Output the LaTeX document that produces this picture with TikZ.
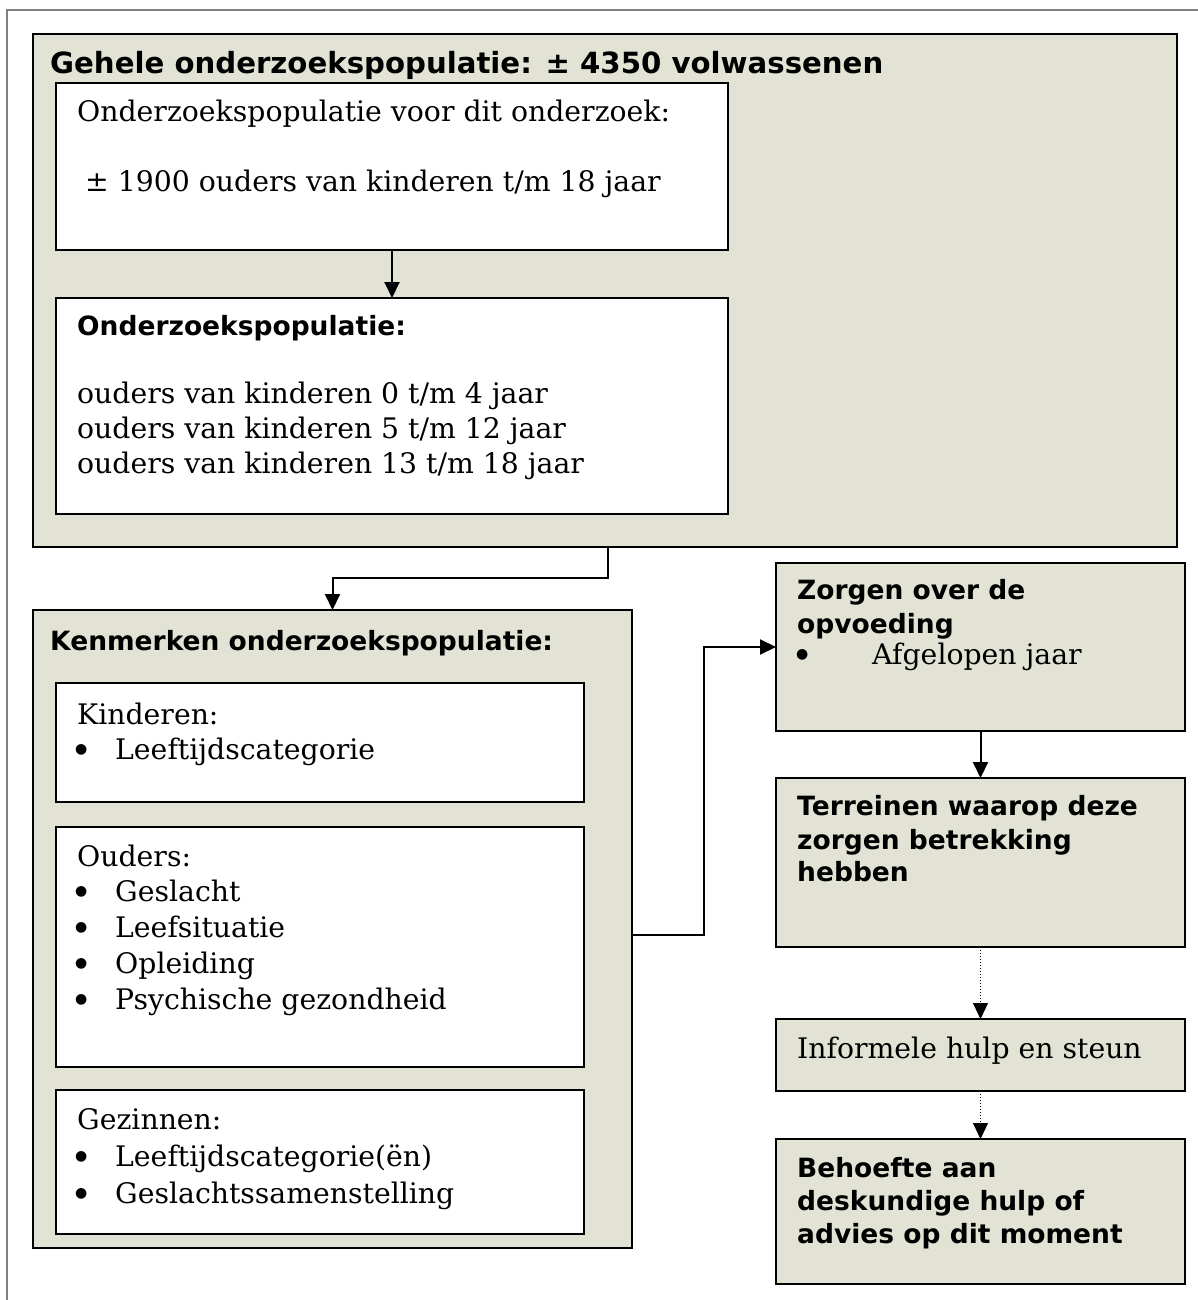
\documentclass[tikz,border=0pt]{standalone}
\usepackage{fontspec}
\setmainfont{DejaVu Serif}
\newfontfamily\hdfam{DejaVu Sans}
\usetikzlibrary{arrows.meta}
\definecolor{beige}{RGB}{227,227,213}
\newcommand\myrm{\rmfamily\fontsize{28.3}{34}\selectfont}
\newcommand\myhd{\hdfam\bfseries\fontsize{26.5}{33}\selectfont}
\newcommand\mytitle{\hdfam\bfseries\fontsize{29.2}{34}\selectfont}
\newcommand\mybul{\hdfam\fontsize{14}{14}\selectfont}
\begin{document}
\begin{tikzpicture}[x=1pt,y=-1pt,
  outerbox/.style={draw=black, fill=beige, line width=2pt, rectangle, anchor=north west, inner sep=0pt, outer sep=0pt},
  innerbox/.style={draw=black, fill=white, line width=2pt, rectangle, anchor=north west, inner sep=0pt, outer sep=0pt},
  txt/.style={anchor=base west, inner sep=0pt, font=\myrm},
  bul/.style={anchor=base west, inner sep=0pt, font=\mybul, yshift=6pt},
  hd/.style={anchor=base west, inner sep=0pt, font=\myhd},
  conn/.style={line width=2pt, -{Triangle[length=16pt,width=15pt]}},
  dotconn/.style={line width=1pt, dotted, -{Triangle[length=16pt,width=15pt]}}]
\useasboundingbox (0,0) rectangle (1198,1300);
% page frame
\draw[gray, line width=1.5pt] (7,1300) -- (7,10) -- (1198,10);

% boxes
\node[outerbox, minimum width=1144pt, minimum height=513pt] (pop) at (33,34) {};
\node[innerbox, minimum width=672pt, minimum height=167pt] (boxA) at (56,83) {};
\node[innerbox, minimum width=672pt, minimum height=216pt] (boxB) at (56,298) {};
\node[outerbox, minimum width=599pt, minimum height=638pt] (kenm) at (33,610) {};
\node[innerbox, minimum width=528pt, minimum height=119pt] (kind) at (56,683) {};
\node[innerbox, minimum width=528pt, minimum height=240pt] (oud) at (56,827) {};
\node[innerbox, minimum width=528pt, minimum height=144pt] (gez) at (56,1090) {};
\node[outerbox, minimum width=409pt, minimum height=168pt] (zorg) at (776,563) {};
\node[outerbox, minimum width=409pt, minimum height=169pt] (terr) at (776,778) {};
\node[outerbox, minimum width=409pt, minimum height=72pt] (inf) at (776,1019) {};
\node[outerbox, minimum width=409pt, minimum height=145pt] (beh) at (776,1139) {};

% texts
\node[hd, font=\mytitle] (t0) at (50,74) {Gehele onderzoekspopulatie: ± 4350 volwassenen};
\node[txt] (a1) at (77,122) {Onderzoekspopulatie voor dit onderzoek:};
\node[txt] (a2) at (85,192) {± 1900 ouders van kinderen t/m 18 jaar};
\node[hd] (b0) at (77,335) {Onderzoekspopulatie:};
\node[txt] (b1) at (77,403) {ouders van kinderen 0 t/m 4 jaar};
\node[txt] (b2) at (77,438) {ouders van kinderen 5 t/m 12 jaar};
\node[txt] (b3) at (77,473) {ouders van kinderen 13 t/m 18 jaar};

\node[hd] (k0) at (50,650) {Kenmerken onderzoekspopulatie:};
\node[txt] (k1) at (77,724) {Kinderen:};
\node[bul] (k1b) at (75,759) {●};
\node[txt] (k1t) at (115,759) {Leeftijdscategorie};

\node[txt] (o0) at (77,866) {Ouders:};
\node[bul] (o1b) at (75,901) {●};
\node[txt] (o1t) at (115,901) {Geslacht};
\node[bul] (o2b) at (75,937) {●};
\node[txt] (o2t) at (115,937) {Leefsituatie};
\node[bul] (o3b) at (75,973) {●};
\node[txt] (o3t) at (115,973) {Opleiding};
\node[bul] (o4b) at (75,1009) {●};
\node[txt] (o4t) at (115,1009) {Psychische gezondheid};

\node[txt] (g0) at (77,1129) {Gezinnen:};
\node[bul] (g1b) at (75,1166) {●};
\node[txt] (g1t) at (115,1166) {Leeftijdscategorie(ën)};
\node[bul] (g2b) at (75,1203) {●};
\node[txt] (g2t) at (115,1203) {Geslachtssamenstelling};

\node[hd] (z1) at (797,599) {Zorgen over de};
\node[hd] (z2) at (797,633) {opvoeding};
\node[bul] (z3b) at (796,664) {●};
\node[txt] (z3t) at (872,664) {Afgelopen jaar};

\node[hd] (r1) at (797,815) {Terreinen waarop deze};
\node[hd] (r2) at (797,849) {zorgen betrekking};
\node[hd] (r3) at (797,881) {hebben};

\node[txt] (i1) at (797,1058) {Informele hulp en steun};

\node[hd] (h1) at (797,1177) {Behoefte aan};
\node[hd] (h2) at (797,1210) {deskundige hulp of};
\node[hd] (h3) at (797,1243) {advies op dit moment};

% connectors
\coordinate (popout) at (608,547);
\coordinate (kout) at (632,935);
\draw[conn] (boxA.south) -- (boxB.north);
\draw[conn] (popout) -- ++(0,31) -| (kenm.north);
\draw[conn] (kout) -- ++(72,0) |- (zorg.west);
\draw[conn] (zorg.south) -- (terr.north);
\draw[dotconn] (terr.south) -- (inf.north);
\draw[dotconn] (inf.south) -- (beh.north);
\end{tikzpicture}
\end{document}
